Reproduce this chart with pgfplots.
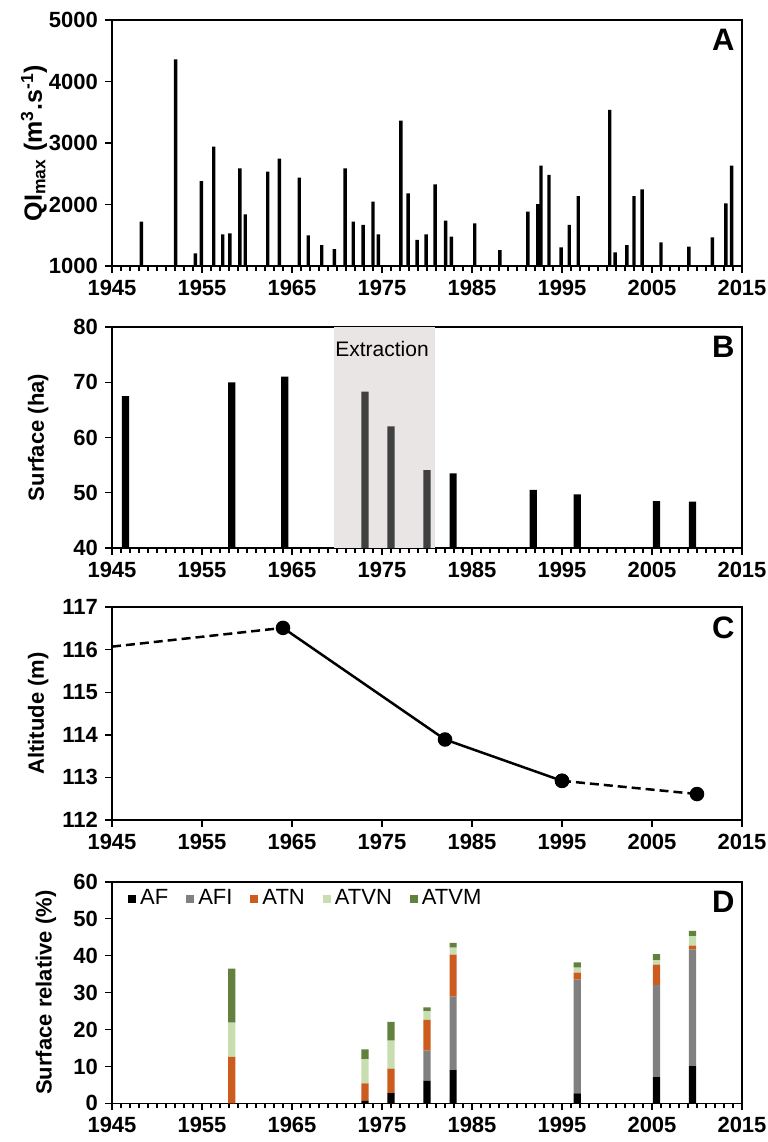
\documentclass[border=0pt]{standalone}
\usepackage{fontspec}
\setmainfont{Liberation Sans}
\usepackage{pgfplots}
\pgfplotsset{compat=1.18}

\definecolor{cAFI}{RGB}{128,128,128}
\definecolor{cATN}{RGB}{204,92,30}
\definecolor{cATVN}{RGB}{200,222,176}
\definecolor{cATVM}{RGB}{98,128,62}
\definecolor{cShade}{RGB}{233,229,229}
\definecolor{cExtr}{RGB}{64,64,64}

\pgfplotsset{
  panel/.style={
    scale only axis, width=315pt, anchor=south west,
    xmin=1945, xmax=2015, xtick={1945,1955,...,2015},
    axis line style={line width=0.8pt},
    tick style={black, line width=0.7pt},
    tick align=outside, tick pos=left,
    major tick length=3.5pt, minor tick length=2.5pt,
    ticklabel style={font=\bfseries\fontsize{11}{13}\selectfont},
    /pgf/number format/assume math mode=true,
    /pgf/number format/1000 sep={},
    every axis y label/.style={rotate=90, anchor=center,
      font=\bfseries\fontsize{11}{13}\selectfont},
  },
}
\tikzset{
  letter/.style={anchor=north east, inner sep=0pt, xshift=-3.5pt, yshift=-4.5pt,
    font=\bfseries\fontsize{15.5}{16}\selectfont},
}

\begin{document}
\begin{tikzpicture}
\path[use as bounding box] (0,0) rectangle (383.5pt,-571pt);

% A: annual peak discharge
\begin{axis}[panel, at={(56pt,-133pt)}, height=123pt,
  ymin=1000, ymax=5000, ytick={1000,2000,...,5000},
  minor x tick num=9,
  ylabel={QI\textsubscript{max} (m\textsuperscript{3}.s\textsuperscript{-1})},
  ylabel style={at={(axis description cs:-0.124,0.5)}, font=\bfseries\fontsize{12.5}{14}\selectfont}]
\addplot[ybar, bar width=1.7pt, bar shift=0pt, fill=black, draw=none] coordinates {
(1948.26,1721) (1952.07,4360) (1954.26,1206) (1954.93,2382) (1956.3,2940)
(1957.3,1515) (1958.1,1531) (1959.2,2588) (1959.8,1840) (1962.3,2534)
(1963.6,2745) (1965.8,2436) (1966.8,1499) (1968.3,1341) (1969.7,1276)
(1970.9,2588) (1971.8,1721) (1972.9,1667) (1974.0,2046) (1974.6,1515)
(1977.1,3363) (1977.9,2182) (1978.9,1423) (1979.9,1515) (1980.9,2328)
(1982.07,1737) (1982.7,1477) (1985.3,1694) (1988.1,1260) (1991.2,1883)
(1992.3,2008) (1992.67,2631) (1993.56,2480) (1994.9,1304) (1995.8,1667)
(1996.8,2138) (2000.3,3537) (2000.9,1222) (2002.2,1341) (2003.0,2138)
(2003.9,2247) (2006.0,1385) (2009.1,1314) (2011.7,1466) (2013.2,2019)
(2013.85,2631)
};
\node[letter] at (rel axis cs:1,1) {A};
\end{axis}

% B: surface
\begin{axis}[panel, at={(56pt,-274pt)}, height=110.5pt,
  ymin=40, ymax=80, ytick={40,50,...,80},
  minor x tick num=9,
  ylabel={Surface (ha)},
  ylabel style={at={(axis description cs:-0.117,0.5)}}]
\addplot[fill=cShade, draw=none] coordinates {(1969.7,80) (1980.9,80)} \closedcycle;
\addplot[ybar, bar width=3.6pt, bar shift=0pt, fill=black, draw=none] coordinates {
(1946.5,67.5) (1958.3,70.0) (1964.2,71.0) (1982.9,53.5) (1991.8,50.5)
(1996.7,49.7) (2005.5,48.5) (2009.5,48.4)
};
\addplot[ybar, bar width=3.6pt, bar shift=0pt, fill=cExtr, draw=none] coordinates {
(1973.1,68.3) (1976.0,62.0) (1980.0,54.1)
};
\node[font=\fontsize{10.5}{12}\selectfont] at (axis cs:1975,76) {Extraction};
\node[letter] at (rel axis cs:1,1) {B};
\end{axis}

% C: altitude
\begin{axis}[panel, at={(56pt,-410pt)}, height=106.5pt,
  ymin=112, ymax=117, ytick={112,113,...,117},
  ylabel={Altitude (m)},
  ylabel style={at={(axis description cs:-0.117,0.5)}}]
\addplot[black, line width=1.25pt, dash pattern=on 4.5pt off 2.5pt] coordinates {
(1945,116.07) (1964,116.51)
};
\addplot[black, line width=1.25pt, mark=*, mark size=3pt] coordinates {
(1964,116.51) (1982,113.89) (1995,112.92)
};
\addplot[black, line width=1.25pt, dash pattern=on 4.5pt off 2.5pt, mark=*, mark size=3pt,
  mark options={solid}] coordinates {
(1995,112.92) (2010,112.61)
};
\node[letter] at (rel axis cs:1,1) {C};
\end{axis}

% D: relative surface by class
\begin{axis}[panel, at={(56pt,-551.7pt)}, height=110.8pt,
  ymin=0, ymax=60, ytick={0,10,...,60},
  minor x tick num=9,
  ylabel={Surface relative (\%)},
  ylabel style={at={(axis description cs:-0.105,0.5)}},
  ybar stacked, bar width=3.6pt,
  legend columns=5,
  legend image code/.code={\fill[#1] (0pt,-2pt) rectangle (4pt,2pt);},
  legend style={draw=none, fill=none, at={(rel axis cs:0.025,0.985)}, anchor=north west,
    font=\fontsize{11}{13}\selectfont, inner sep=0pt,
    /tikz/every even column/.append style={column sep=7pt}}]
\addplot[fill=black, draw=none] coordinates {
(1958.3,0) (1973.1,0.7) (1976.0,2.8) (1980.0,6.1) (1982.9,9.0) (1996.7,2.7) (2005.5,7.1) (2009.5,10.1)};
\addplot[fill=cAFI, draw=none] coordinates {
(1958.3,0) (1973.1,0) (1976.0,0) (1980.0,8.2) (1982.9,19.9) (1996.7,30.8) (2005.5,24.9) (2009.5,31.6)};
\addplot[fill=cATN, draw=none] coordinates {
(1958.3,12.6) (1973.1,4.7) (1976.0,6.6) (1980.0,8.3) (1982.9,11.4) (1996.7,1.9) (2005.5,5.6) (2009.5,1.0)};
\addplot[fill=cATVN, draw=none] coordinates {
(1958.3,9.3) (1973.1,6.6) (1976.0,7.6) (1980.0,2.4) (1982.9,1.9) (1996.7,1.4) (2005.5,1.1) (2009.5,2.6)};
\addplot[fill=cATVM, draw=none] coordinates {
(1958.3,14.6) (1973.1,2.6) (1976.0,5.1) (1980.0,1.0) (1982.9,1.3) (1996.7,1.4) (2005.5,1.7) (2009.5,1.4)};
\legend{AF,AFI,ATN,ATVN,ATVM}
\node[letter] at (rel axis cs:1,1) {D};
\end{axis}
\end{tikzpicture}
\end{document}
